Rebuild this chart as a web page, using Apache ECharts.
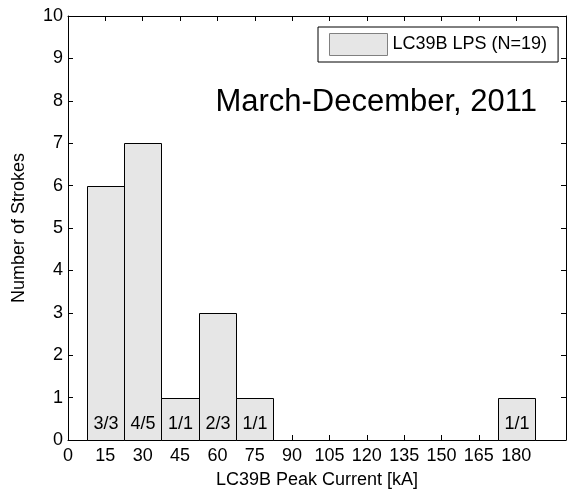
<!DOCTYPE html>
<html>
<head>
<meta charset="utf-8">
<script src="https://cdn.jsdelivr.net/npm/echarts@6/dist/echarts.min.js"></script>
<style>
html,body{margin:0;padding:0;background:#fff;}
#chart{width:569px;height:494px;}
</style>
</head>
<body>
<div id="chart"></div>
<script>
const binCenters = [15, 30, 45, 60, 75, 180];
const strokeCounts = [6, 7, 1, 3, 1, 1];
const binRatios = ['3/3', '4/5', '1/1', '2/3', '1/1', '1/1'];
const binWidth = 15;
const xTickValues = [0, 15, 30, 45, 60, 75, 90, 105, 120, 135, 150, 165, 180];
const yTickValues = [0, 1, 2, 3, 4, 5, 6, 7, 8, 9, 10];
const seriesName = 'LC39B LPS (N=19)';
const titleText = 'March-December, 2011';

const FONT = 'Liberation Sans, Arial, Helvetica, sans-serif';
const chart = echarts.init(document.getElementById('chart'), null, {renderer: 'canvas'});

const barData = binCenters.map((c, i) => [c, strokeCounts[i], binRatios[i]]);

const commonX = {
  type: 'value', min: 0, max: 200, interval: 15,
  axisLine: {show: true, onZero: false, lineStyle: {color: '#000', width: 1}},
  splitLine: {show: false}
};
const commonY = {
  type: 'value', min: 0, max: 10, interval: 1,
  axisLine: {show: true, onZero: false, lineStyle: {color: '#000', width: 1}},
  splitLine: {show: false}
};

chart.setOption({
  animation: false,
  backgroundColor: '#fff',
  textStyle: {fontFamily: FONT},
  grid: {left: 68, right: 3, top: 16, bottom: 51, containLabel: false},
  legend: {
    left: 318, top: 27,
    padding: [6, 11, 6, 11],
    borderColor: '#000', borderWidth: 1,
    backgroundColor: '#fff',
    itemWidth: 58, itemHeight: 22,
    textStyle: {fontSize: 18, color: '#000', fontFamily: FONT},
    data: [{name: seriesName, icon: 'rect', itemStyle: {color: '#e6e6e6', borderColor: '#808080', borderWidth: 1}}]
  },
  graphic: [{
    type: 'text', right: 569 - 537, top: 87, z: 10,
    style: {text: titleText, fontSize: 31, fontFamily: FONT, fill: '#000'}
  }],
  xAxis: [
    Object.assign({}, commonX, {
      position: 'bottom',
      name: 'LC39B Peak Current [kA]', nameLocation: 'middle', nameGap: 31,
      nameTextStyle: {fontSize: 18, color: '#000', fontFamily: FONT},
      axisTick: {show: true, inside: true, length: 5, customValues: xTickValues, lineStyle: {color: '#000'}},
      axisLabel: {show: true, margin: 7, fontSize: 18, color: '#000', fontFamily: FONT, customValues: xTickValues}
    }),
    Object.assign({}, commonX, {
      position: 'top',
      axisTick: {show: true, inside: true, length: 5, customValues: xTickValues, lineStyle: {color: '#000'}},
      axisLabel: {show: false}
    })
  ],
  yAxis: [
    Object.assign({}, commonY, {
      position: 'left',
      name: 'Number of Strokes', nameLocation: 'middle', nameGap: 40,
      nameTextStyle: {fontSize: 18, color: '#000', fontFamily: FONT},
      axisTick: {show: true, inside: true, length: 5, customValues: yTickValues, lineStyle: {color: '#000'}},
      axisLabel: {show: true, margin: 5, fontSize: 18, color: '#000', fontFamily: FONT, customValues: yTickValues}
    }),
    Object.assign({}, commonY, {
      position: 'right',
      axisTick: {show: true, inside: true, length: 5, customValues: yTickValues, lineStyle: {color: '#000'}},
      axisLabel: {show: false}
    })
  ],
  series: [{
    name: seriesName,
    type: 'custom',
    xAxisIndex: 0, yAxisIndex: 0,
    itemStyle: {color: '#e6e6e6', borderColor: '#000', borderWidth: 1},
    encode: {x: 0, y: 1},
    data: barData,
    renderItem: function (params, api) {
      const c = api.value(0), v = api.value(1);
      const p0 = api.coord([c - binWidth / 2, v]);
      const p1 = api.coord([c + binWidth / 2, 0]);
      const x0 = Math.round(p0[0]) + 0.5, x1 = Math.round(p1[0]) + 0.5;
      const y0 = Math.round(p0[1]) + 0.5, y1 = Math.round(p1[1]) + 0.5;
      return {
        type: 'group',
        children: [{
          type: 'rect',
          shape: {x: x0, y: y0, width: x1 - x0, height: y1 - y0},
          style: {fill: '#e6e6e6', stroke: '#000', lineWidth: 1}
        }, {
          type: 'text',
          x: (x0 + x1) / 2, y: y1 - 16,
          style: {
            text: barData[params.dataIndex][2],
            fontSize: 18, fontFamily: FONT, fill: '#000',
            textAlign: 'center', textVerticalAlign: 'middle'
          }
        }]
      };
    }
  }]
});
</script>
</body>
</html>
